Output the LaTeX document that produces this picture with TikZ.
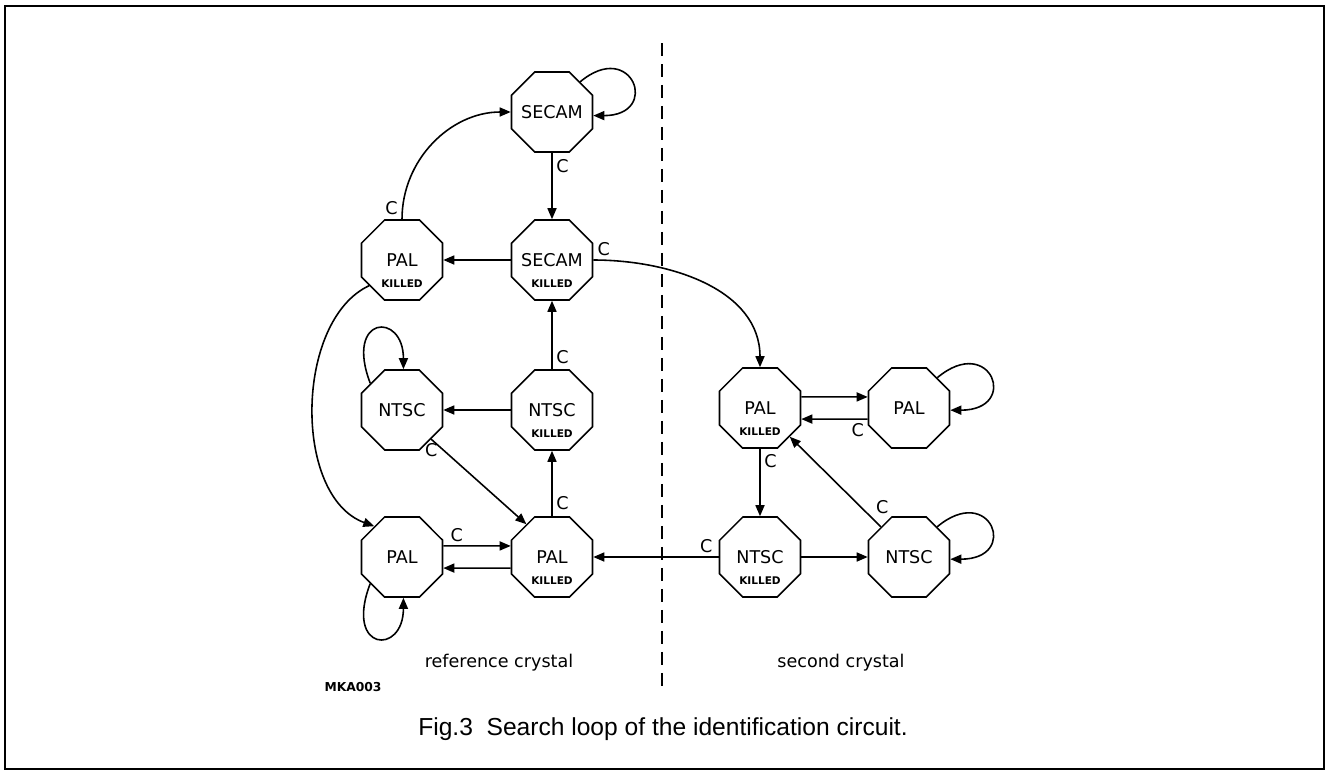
\documentclass[tikz,border=0pt]{standalone}
\usepackage{fontspec}
\setmainfont{DejaVu Sans}
\newfontfamily\capfont{Liberation Sans}
\usetikzlibrary{shapes.misc,arrows.meta}
\newcommand{\stname}[1]{\makebox[19pt]{#1}}

\begin{document}
\begin{tikzpicture}[x=0.02cm, y=0.02cm, line width=0.9pt,
    state/.style={chamfered rectangle, draw, minimum width=1.62cm, minimum height=1.6cm,
        chamfered rectangle xsep=0.6cm, chamfered rectangle ysep=0.6cm, inner sep=0pt, font=\fontsize{10}{12}\selectfont},
    killed/.style={label={[font=\fontsize{6}{7}\selectfont\bfseries, yshift=-0.48cm]center:KILLED}},
    arr/.style={-{Triangle[length=0.22cm,width=0.18cm]}},
    lbl/.style={font=\fontsize{10}{12}\selectfont, inner sep=2pt}]
        \useasboundingbox (0,0) rectangle (1326,-775);
        \draw[line width=1pt] (5,-6) rectangle (1324,-769);

        % states, reference crystal
        \node[state] (secam) at (552,-112) {\stname{SECAM}};
        \node[state, killed] (secamk) at (552,-260) {\stname{SECAM}};
        \node[state, killed] (palk1) at (402,-260) {\stname{PAL}};
        \node[state] (ntsc1) at (402,-410) {\stname{NTSC}};
        \node[state, killed] (ntsck) at (552,-410) {\stname{NTSC}};
        \node[state] (pal1) at (402,-557) {\stname{PAL}};
        \node[state, killed] (palk2) at (552,-557) {\stname{PAL}};
        % states, second crystal
        \node[state, killed] (palk3) at (760,-408) {\stname{PAL}};
        \node[state] (pal3) at (909,-408) {\stname{PAL}};
        \node[state, killed] (ntsck3) at (760,-557) {\stname{NTSC}};
        \node[state] (ntsc3) at (909,-557) {\stname{NTSC}};

        % separation line
        \coordinate (dtop) at (662,-43);
        \coordinate (dbot) at (662,-693);
        \draw[dash pattern=on 0.26cm off 0.16cm] (dtop) -- (dbot);

        % transitions
        \draw[arr] (secam.47) .. controls +(40:68) and +(0:68) .. (secam.-5);
        \draw[arr] (palk1.north) to[out=90,in=180] node[lbl, at start, above left]{C} (secam.west);
        \draw[arr] (secam.south) -- node[lbl, pos=0.2, right]{C} (secamk.north);
        \draw[arr] (secamk.west) -- (palk1.east);
        \draw[arr] (secamk.east) to[out=0,in=90] node[lbl, at start, above right]{C} (palk3.north);
        \draw[arr] (palk1.218) .. controls +(205:82) and +(160:87) .. (pal1.132);
        \draw[arr] (ntsc1.140) .. controls +(111:73) and +(90:58) .. (ntsc1.88);
        \draw[arr] (ntsck.west) -- (ntsc1.east);
        \draw[arr] (ntsc1.-45) -- node[lbl, at start, below]{C} (palk2.128);
        \draw[arr] (palk2.north) -- node[lbl, pos=0.2, right]{C} (ntsck.south);
        \draw[arr] (ntsck.north) -- node[lbl, pos=0.18, right]{C} (secamk.south);
        \draw[arr] (pal1.15) -- node[lbl, pos=0.2, above]{C} (palk2.165);
        \draw[arr] (palk2.195) -- (pal1.-15);
        \draw[arr] (pal1.220) .. controls +(249:73) and +(270:58) .. (pal1.272);
        \draw[arr] (ntsck3.west) -- node[lbl, pos=0.1, above]{C} (palk2.east);
        \draw[arr] (palk3.15) -- (pal3.165);
        \draw[arr] (pal3.195) -- node[lbl, pos=0.15, below]{C} (palk3.-15);
        \draw[arr] (pal3.47) .. controls +(40:70) and +(0:70) .. (pal3.-3);
        \draw[arr] (palk3.south) -- node[lbl, pos=0.18, right]{C} (ntsck3.north);
        \draw[arr] (ntsc3.133) -- node[lbl, pos=0.1, above right]{C} (palk3.-44);
        \draw[arr] (ntsck3.east) -- (ntsc3.west);
        \draw[arr] (ntsc3.47) .. controls +(40:70) and +(0:70) .. (ntsc3.-3);

        % texts
        \node[lbl] (reftext) at (499,-663) {reference crystal};
        \node[lbl] (sectext) at (841,-663) {second crystal};
        \node[font=\fontsize{7}{8}\selectfont\bfseries] (mka) at (353,-687) {MKA003};
        \node[font=\capfont\fontsize{14}{16}\selectfont] (caption) at (663,-729) {Fig.3\ \ Search loop of the identification circuit.};
    \end{tikzpicture}
\end{document}
